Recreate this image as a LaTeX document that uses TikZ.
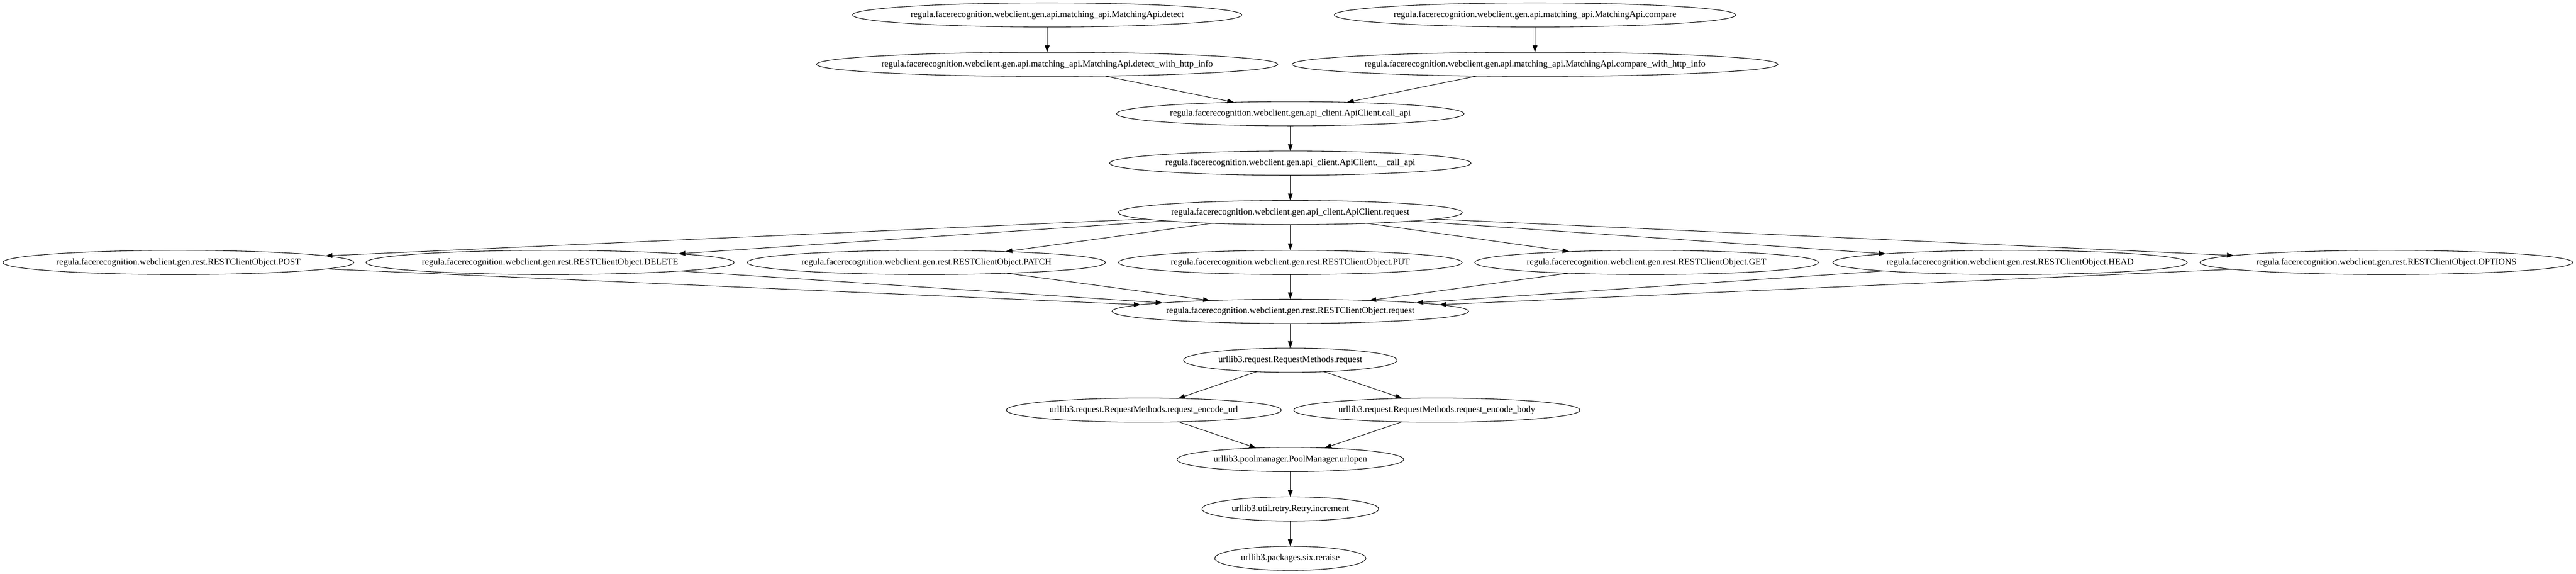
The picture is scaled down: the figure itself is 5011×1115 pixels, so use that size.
\documentclass[tikz,border=0pt]{standalone}
\usepackage{fontspec}
\setmainfont{Liberation Serif}
\usetikzlibrary{shapes.geometric,arrows.meta}
\begin{document}
\begin{tikzpicture}[x=0.75pt,y=-0.75pt,
  gnode/.style={draw=black,ellipse,line width=0.8pt,inner sep=0pt,outer sep=0pt,
    minimum height=35.25pt,font=\fontsize{13.2pt}{15pt}\selectfont},
  gedge/.style={draw=black,line width=0.75pt,-{Triangle[length=10pt,width=7pt]}}]
\useasboundingbox (0,0) rectangle (5011,1115);
\newcommand\lbl[1]{\makebox[0pt]{#1}}
% rank 1
\node[gnode,minimum width=567.75pt] (detect) at (2037,29) {\lbl{regula.facerecognition.webclient.gen.api.matching\_api.MatchingApi.detect}};
\node[gnode,minimum width=585.75pt] (compare) at (2986,29) {\lbl{regula.facerecognition.webclient.gen.api.matching\_api.MatchingApi.compare}};
% rank 2
\node[gnode,minimum width=672.75pt] (dwhi) at (2037,125) {\lbl{regula.facerecognition.webclient.gen.api.matching\_api.MatchingApi.detect\_with\_http\_info}};
\node[gnode,minimum width=708.75pt] (cwhi) at (2986,125) {\lbl{regula.facerecognition.webclient.gen.api.matching\_api.MatchingApi.compare\_with\_http\_info}};
% rank 3-5
\node[gnode,minimum width=507pt] (callapi) at (2510,221) {\lbl{regula.facerecognition.webclient.gen.api\_client.ApiClient.call\_api}};
\node[gnode,minimum width=527.25pt] (ucallapi) at (2510,317) {\lbl{regula.facerecognition.webclient.gen.api\_client.ApiClient.\_\_call\_api}};
\node[gnode,minimum width=501.75pt] (apireq) at (2510,413) {\lbl{regula.facerecognition.webclient.gen.api\_client.ApiClient.request}};
% rank 6
\node[gnode,minimum width=512.25pt] (post) at (347,510) {\lbl{regula.facerecognition.webclient.gen.rest.RESTClientObject.POST}};
\node[gnode,minimum width=537pt] (delete) at (1070,510) {\lbl{regula.facerecognition.webclient.gen.rest.RESTClientObject.DELETE}};
\node[gnode,minimum width=522.75pt] (patch) at (1802,510) {\lbl{regula.facerecognition.webclient.gen.rest.RESTClientObject.PATCH}};
\node[gnode,minimum width=501.75pt] (put) at (2510,510) {\lbl{regula.facerecognition.webclient.gen.rest.RESTClientObject.PUT}};
\node[gnode,minimum width=501.75pt] (get) at (3203,510) {\lbl{regula.facerecognition.webclient.gen.rest.RESTClientObject.GET}};
\node[gnode,minimum width=517.5pt] (head) at (3910,510) {\lbl{regula.facerecognition.webclient.gen.rest.RESTClientObject.HEAD}};
\node[gnode,minimum width=543.75pt] (options) at (4642,510) {\lbl{regula.facerecognition.webclient.gen.rest.RESTClientObject.OPTIONS}};
% rank 7+
\node[gnode,minimum width=520.5pt] (restreq) at (2510,605) {\lbl{regula.facerecognition.webclient.gen.rest.RESTClientObject.request}};
\node[gnode,minimum width=311.25pt] (rmreq) at (2510,700) {\lbl{urllib3.request.RequestMethods.request}};
\node[gnode,minimum width=401.25pt] (encurl) at (2225,797) {\lbl{urllib3.request.RequestMethods.request\_encode\_url}};
\node[gnode,minimum width=417.75pt] (encbody) at (2795,797) {\lbl{urllib3.request.RequestMethods.request\_encode\_body}};
\node[gnode,minimum width=330.75pt] (urlopen) at (2510,893) {\lbl{urllib3.poolmanager.PoolManager.urlopen}};
\node[gnode,minimum width=258pt] (retry) at (2510,989) {\lbl{urllib3.util.retry.Retry.increment}};
\node[gnode,minimum width=220.5pt] (reraise) at (2510,1085) {\lbl{urllib3.packages.six.reraise}};
% edges
\draw[gedge] (detect) -- (dwhi);
\draw[gedge] (compare) -- (cwhi);
\draw[gedge] (dwhi) -- (callapi);
\draw[gedge] (cwhi) -- (callapi);
\draw[gedge] (callapi) -- (ucallapi);
\draw[gedge] (ucallapi) -- (apireq);
\foreach \n in {post,delete,patch,put,get,head,options}{
  \draw[gedge] (apireq) -- (\n);
  \draw[gedge] (\n) -- (restreq);
}
\draw[gedge] (restreq) -- (rmreq);
\draw[gedge] (rmreq) -- (encurl);
\draw[gedge] (rmreq) -- (encbody);
\draw[gedge] (encurl) -- (urlopen);
\draw[gedge] (encbody) -- (urlopen);
\draw[gedge] (urlopen) -- (retry);
\draw[gedge] (retry) -- (reraise);
\end{tikzpicture}
\end{document}
